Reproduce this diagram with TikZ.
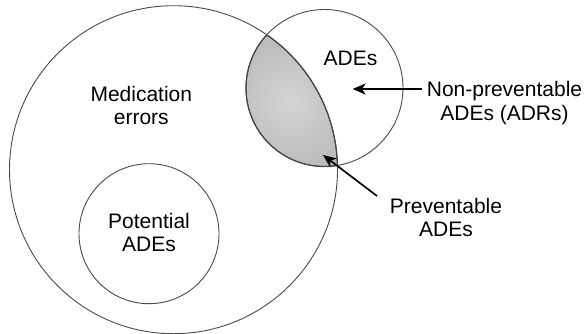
\documentclass[tikz,border=0pt]{standalone}
\usepackage{fontspec}
\setmainfont{Liberation Sans}
\usetikzlibrary{arrows.meta}
\definecolor{rimgray}{HTML}{4A4A4A}
\definecolor{lensrim}{HTML}{3C3C3C}
\definecolor{lensin}{HTML}{D4D4D4}
\definecolor{lensout}{HTML}{9C9C9C}
\tikzset{
  setcircle/.style={circle, draw=rimgray, line width=0.9pt, inner sep=0pt},
  lbl/.style={font=\fontsize{21}{23.4}\selectfont, align=center, inner sep=0pt, anchor=base},
  pointer/.style={line width=1.7pt, -{Stealth[length=13pt,width=11pt,inset=3.5pt]}}
}
\begin{document}
\begin{tikzpicture}[x=1pt,y=-1pt]
  \useasboundingbox (0,0) rectangle (584,333);

  % shaded overlap of the two sets
  \begin{scope}
    \clip (173.5,169.7) circle[radius=164pt];
    \clip (324.5,88) circle[radius=78.5pt];
    \shade[inner color=lensin, outer color=lensout] (291,102) circle[radius=150pt];
  \end{scope}
  \begin{scope}
    \clip (173.5,169.7) circle[radius=164pt];
    \draw[lensrim, line width=1.2pt] (324.5,88) circle[radius=78.5pt];
  \end{scope}
  \begin{scope}
    \clip (324.5,88) circle[radius=78.5pt];
    \draw[lensrim, line width=1.2pt] (173.5,169.7) circle[radius=164pt];
  \end{scope}

  % the three sets
  \node[setcircle, minimum size=328pt] (med) at (173.5,169.7) {};
  \node[setcircle, minimum size=157pt] (ade) at (324.5,88) {};
  \node[setcircle, minimum size=140pt] (pot) at (149,233.7) {};

  % labels (anchored at the baseline of their last line)
  \node[lbl] (adelbl) at (350.5,65) {ADEs};
  \node[lbl] (medlbl) at (141.3,124.5) {Medication\\errors};
  \node[lbl] (potlbl) at (149,251.7) {Potential\\ADEs};
  \node[lbl] (nplbl) at (504.5,120.3) {Non-preventable\\ADEs (ADRs)};
  \node[lbl] (plbl) at (446,236.7) {Preventable\\ADEs};

  % pointers
  \coordinate (nptail) at (421.6,89);
  \coordinate (nptip) at (352.6,89);
  \coordinate (ptail) at (377,196);
  \coordinate (ptip) at (323,155);
  \draw[pointer] (nptail) -- (nptip);
  \draw[pointer] (ptail) -- (ptip);
\end{tikzpicture}
\end{document}
